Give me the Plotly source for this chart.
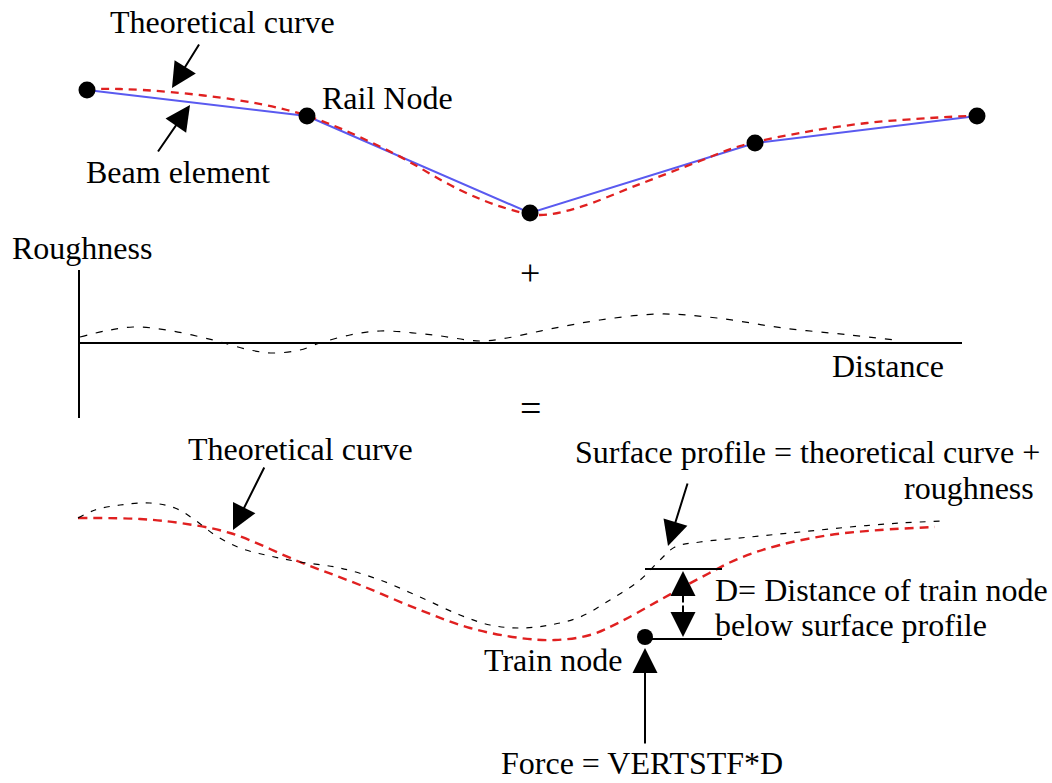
import plotly.graph_objects as go

# ---- data (diagram coordinates, pixel space: x right, y down) ----
rail_node_x = [87, 307, 530, 755, 977]
rail_node_y = [90, 116, 213, 143, 116]

theory_top_x = [87, 120, 170, 237, 287, 327, 393, 460, 505, 540, 577, 640, 700, 740, 800, 867, 930, 968]
theory_top_y = [89, 89, 92, 100, 110, 123, 153, 190, 208, 215, 208, 184, 161, 146, 133, 123, 118, 116]

rough_x = [80, 105, 133, 167, 213, 250, 273, 300, 320, 350, 380, 433, 480, 507, 550, 600, 660, 717, 783, 850, 895]
rough_y = [337, 331, 327, 330, 340, 350, 353, 350, 343, 335, 331, 335, 341, 338, 329, 320, 314, 318, 328, 335, 340]

theory_bot_x = [78, 140, 180, 230, 300, 360, 420, 470, 520, 555, 590, 620, 660, 700, 740, 780, 830, 880, 935]
theory_bot_y = [518, 519, 523, 533, 562, 585, 610, 628, 638, 640, 635, 622, 600, 578, 558, 545, 535, 530, 527]

surface_x = [78, 95, 120, 150, 175, 195, 215, 240, 270, 300, 340, 380, 420, 460, 490, 520, 550, 580, 610, 640, 660, 675, 700, 750, 800, 850, 900, 945]
surface_y = [518, 510, 505, 503, 508, 520, 535, 548, 556, 562, 568, 580, 597, 615, 625, 628, 625, 617, 600, 580, 560, 547, 542, 537, 532, 527, 523, 521]

axis_v_x = [79, 79]
axis_v_y = [270, 418]
axis_h_x = [79, 962]
axis_h_y = [343, 343]

train_node_x = [645]
train_node_y = [637]
d_top_x = [645, 722]
d_top_y = [569, 569]
d_bot_x = [645, 722]
d_bot_y = [639, 639]

FONT = "Liberation Serif, Times New Roman, serif"
FS = 32
W, H = 1052, 783

fig = go.Figure()

fig.add_trace(go.Scatter(x=rail_node_x, y=rail_node_y, mode="lines",
                         line=dict(color="#5a5af0", width=2)))
fig.add_trace(go.Scatter(x=theory_top_x, y=theory_top_y, mode="lines",
                         line=dict(color="#e02020", width=2.3, dash="8px,6px", shape="spline")))
fig.add_trace(go.Scatter(x=rail_node_x, y=rail_node_y, mode="markers",
                         marker=dict(color="black", size=17)))

fig.add_trace(go.Scatter(x=axis_v_x, y=axis_v_y, mode="lines", line=dict(color="black", width=2)))
fig.add_trace(go.Scatter(x=axis_h_x, y=axis_h_y, mode="lines", line=dict(color="black", width=2)))
fig.add_trace(go.Scatter(x=rough_x, y=rough_y, mode="lines",
                         line=dict(color="black", width=1.2, dash="7px,9px", shape="spline")))

fig.add_trace(go.Scatter(x=theory_bot_x, y=theory_bot_y, mode="lines",
                         line=dict(color="#e02020", width=2.4, dash="9px,6px", shape="spline")))
fig.add_trace(go.Scatter(x=surface_x, y=surface_y, mode="lines",
                         line=dict(color="black", width=1.2, dash="6px,8px", shape="spline")))
fig.add_trace(go.Scatter(x=d_top_x, y=d_top_y, mode="lines", line=dict(color="black", width=2)))
fig.add_trace(go.Scatter(x=d_bot_x, y=d_bot_y, mode="lines", line=dict(color="black", width=2)))
fig.add_trace(go.Scatter(x=train_node_x, y=train_node_y, mode="markers",
                         marker=dict(color="black", size=16)))

def txt(x, y, s, anchor="center", size=FS):
    fig.add_annotation(x=x, y=y, text=s, showarrow=False, xanchor=anchor, yanchor="middle",
                       font=dict(family=FONT, size=size, color="black"))

def arrow(x0, y0, x1, y1, side="end"):
    fig.add_annotation(x=x1, y=y1, ax=x0, ay=y0, axref="x", ayref="y", xref="x", yref="y",
                       text="", showarrow=True, arrowhead=2, arrowsize=2.5, arrowwidth=2,
                       arrowcolor="black", arrowside=side, standoff=0, startstandoff=0)

txt(222, 22, "Theoretical curve")
arrow(200, 43, 172, 88)
txt(320, 98, "Rail Node", anchor="left")
txt(178, 172, "Beam element")
arrow(157, 153, 190, 105)

txt(10, 248, "Roughness", anchor="left")
txt(530, 273, "+", size=36)
txt(888, 366, "Distance")
txt(530, 408, "=", size=38)

txt(300, 449, "Theoretical curve")
arrow(265, 466, 233, 530)
txt(573, 452, "Surface profile = theoretical curve +", anchor="left")
txt(1036, 488, "roughness", anchor="right")
arrow(688, 482, 668, 546)
arrow(683, 604, 683, 571)
arrow(683, 604, 683, 637)
txt(713, 590, "D= Distance of train node", anchor="left")
txt(713, 625, "below surface profile", anchor="left")
txt(553, 660, "Train node")
arrow(645, 745, 645, 648)
txt(642, 763, "Force = VERTSTF*D")

fig.update_layout(width=W, height=H, margin=dict(l=0, r=0, t=0, b=0),
                  paper_bgcolor="white", plot_bgcolor="white", showlegend=False,
                  xaxis=dict(range=[0, W], visible=False, fixedrange=True),
                  yaxis=dict(range=[H, 0], visible=False, fixedrange=True))

fig.write_html("out.html", config={"displayModeBar": False},
               post_script="document.body.style.margin='0';document.body.style.overflow='hidden';")
